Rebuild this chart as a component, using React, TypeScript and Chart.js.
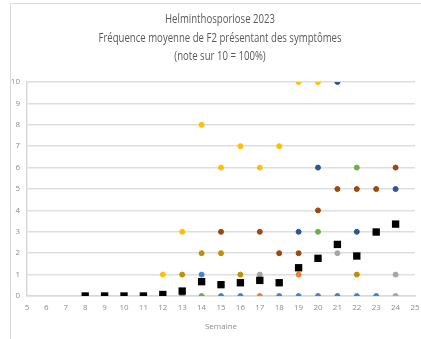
import React, { useEffect, useRef } from "react";
import { Chart, registerables } from "chart.js";

Chart.register(...registerables);

const weeks = [8, 9, 10, 11, 12, 13, 14, 15, 16, 17, 18, 19, 20, 21, 22, 23, 24];
const xTicks = [5, 25];
const yTicks = [0, 10];

const meanValues = [0, 0, 0, 0, 0.07, 0.23, 0.67, 0.53, 0.62, 0.73, 0.62, 1.32, 1.76, 2.41, 1.87, 2.99, 3.36];
const blueValues = [null, null, null, null, null, null, 1, 0, 0, null, 0, 0, 0, 0, 0, 0, null];
const orangeValues = [null, null, null, null, null, null, null, null, null, 0, null, 1, null, null, null, null, null];
const grayValues = [null, null, null, null, null, null, null, null, null, 1, null, null, null, 2, null, null, 1];
const gray2Values = [null, null, null, null, null, null, null, null, null, null, null, null, null, null, null, null, 0];
const yellowValues = [null, null, null, null, 1, 3, 8, 6, 7, 6, 7, 10, 10, null, null, null, null];
const darkYellowValues = [null, null, null, null, null, 1, 2, 2, 1, null, null, null, null, null, 1, null, null];
const greenValues = [null, null, null, null, null, 0, 0, null, null, null, null, null, 3, null, 6, null, null];
const darkBlueValues = [null, null, null, null, null, null, null, null, null, null, null, 3, 6, 10, 3, null, 5];
const brownValues = [null, null, null, null, null, null, null, 3, null, 3, 2, 2, 4, 5, 5, 5, 6];

const titleLines = ["Helminthosporiose 2023", "Fréquence moyenne de F2 présentant des symptômes", "(note sur 10 = 100%)"];
const xTitle = "Semaine";

function toPoints(values: (number | null)[]) {
  const pts: { x: number; y: number }[] = [];
  values.forEach((v, i) => {
    if (v !== null && v !== undefined) pts.push({ x: weeks[i], y: v });
  });
  return pts;
}

function dot(label: string, values: (number | null)[], color: string) {
  return {
    label,
    data: toPoints(values),
    pointStyle: "circle",
    pointRadius: 2.5,
    pointBorderWidth: 1,
    backgroundColor: color,
    borderColor: color,
    showLine: false,
  };
}

const framePlugin = {
  id: "frame",
  beforeDraw(chart: any) {
    const ctx = chart.ctx;
    ctx.save();
    ctx.strokeStyle = "#d9d9d9";
    ctx.lineWidth = 1;
    ctx.beginPath();
    ctx.moveTo(10.5, 339);
    ctx.lineTo(10.5, 3.5);
    ctx.lineTo(421, 3.5);
    ctx.stroke();
    ctx.restore();
  },
};

// Condensed multi-line title (Calibri-like narrow look)
const condensedTitlePlugin = {
  id: "condensedTitle",
  afterDraw(chart: any) {
    const ctx = chart.ctx;
    const cx = 220;
    const ys = [20, 38.5, 57];
    ctx.save();
    ctx.fillStyle = "#595959";
    ctx.font = "12px 'Open Sans'";
    ctx.textAlign = "center";
    ctx.textBaseline = "middle";
    titleLines.forEach((line, i) => {
      ctx.save();
      ctx.translate(cx, ys[i]);
      ctx.scale(0.8, 1);
      ctx.fillText(line, 0, 0);
      ctx.restore();
    });
    ctx.restore();
  },
};

export default function App() {
  const ref = useRef<HTMLCanvasElement>(null);
  useEffect(() => {
    document.body.style.margin = "0";
    const canvas = ref.current!;
    const chart = new Chart(canvas, {
      type: "scatter",
      data: {
        datasets: [
          {
            label: "Moyenne",
            data: toPoints(meanValues),
            pointStyle: "rect",
            pointRadius: 5.2,
            pointBorderWidth: 0,
            backgroundColor: "#000000",
            borderColor: "#000000",
            showLine: false,
          } as any,
          dot("S1", blueValues, "#3f86d2"),
          dot("S2", orangeValues, "#ed7d31"),
          dot("S3", grayValues, "#a5a5a5"),
          dot("S3b", gray2Values, "#a5a5a5"),
          dot("S4", yellowValues, "#ffc000"),
          dot("S5", darkYellowValues, "#bf9000"),
          dot("S6", greenValues, "#70ad47"),
          dot("S7", darkBlueValues, "#2f5597"),
          dot("S8", brownValues, "#9e480e"),
        ],
      },
      options: {
        responsive: false,
        animation: false,
        layout: { padding: { left: 0, right: 0, top: 82, bottom: 0 } },
        plugins: {
          legend: { display: false },
          tooltip: { enabled: false },
          title: { display: false },
        },
        scales: {
          x: {
            type: "linear",
            min: xTicks[0],
            max: xTicks[1],
            afterFit(scale: any) {
              scale.height = 43;
              scale.paddingRight = 6;
              scale.paddingLeft = 0;
            },
            ticks: {
              stepSize: 1,
              color: "#8c8c8c",
              padding: 7,
              maxRotation: 0,
              autoSkip: false,
              font: { family: "'Open Sans'", size: 8 },
            },
            grid: { display: false, drawTicks: false },
            border: { display: true, color: "#d9d9d9", width: 1.5 },
            title: {
              display: true,
              text: xTitle,
              color: "#8c8c8c",
              font: { family: "'Open Sans'", size: 8 },
              padding: { top: 0, bottom: 7 },
            },
          },
          y: {
            type: "linear",
            min: yTicks[0],
            max: yTicks[1],
            afterFit(scale: any) {
              scale.width = 27;
            },
            ticks: {
              stepSize: 1,
              color: "#8c8c8c",
              padding: 7,
              font: { family: "'Open Sans'", size: 8 },
            },
            grid: { color: "#dedede", lineWidth: 1.5, drawTicks: false },
            border: { display: true, color: "#d9d9d9", width: 1.5 },
          },
        },
      } as any,
      plugins: [framePlugin, condensedTitlePlugin],
    });
    return () => chart.destroy();
  }, []);
  return (
    <div style={{ width: 421, height: 339 }}>
      <canvas ref={ref} width={421} height={339} style={{ display: "block", width: 421, height: 339 }} aria-label={titleLines.join(" ")} />
    </div>
  );
}
